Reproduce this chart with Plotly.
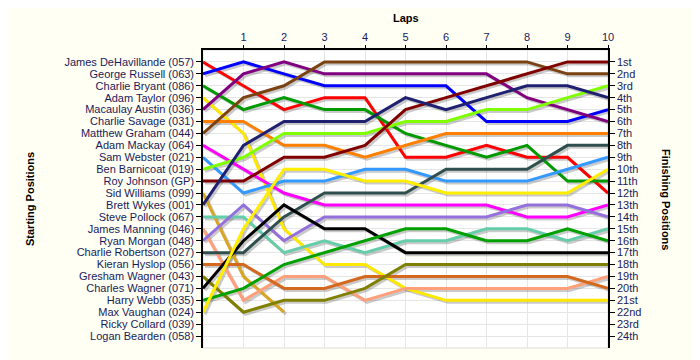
import plotly.graph_objects as go

laps = list(range(0, 11))
lap_ticks = list(range(1, 11))

drivers = [
    "James DeHavillande (057)", "George Russell (063)", "Charlie Bryant (086)",
    "Adam Taylor (096)", "Macaulay Austin (036)", "Charlie Savage (031)",
    "Matthew Graham (044)", "Adam Mackay (064)", "Sam Webster (021)",
    "Ben Barnicoat (019)", "Roy Johnson (GP)", "Sid Williams (099)",
    "Brett Wykes (001)", "Steve Pollock (067)", "James Manning (046)",
    "Ryan Morgan (048)", "Charlie Robertson (027)", "Kieran Hyslop (056)",
    "Gresham Wagner (043)", "Charles Wagner (071)", "Harry Webb (035)",
    "Max Vaughan (024)", "Ricky Collard (039)", "Logan Bearden (058)",
]

finish_labels = ["1st", "2nd", "3rd", "4th", "5th", "6th", "7th", "8th", "9th",
                 "10th", "11th", "12th", "13th", "14th", "15th", "16th", "17th",
                 "18th", "19th", "20th", "21st", "22nd", "23rd", "24th"]

# positions per lap (lap 0 = start)
p_dehavillande = [1, 3, 5, 4, 4, 9, 9, 8, 9, 9, 12]
p_russell = [2, 1, 2, 3, 3, 3, 3, 6, 6, 6, 5]
p_bryant = [3, 5, 4, 5, 5, 7, 8, 9, 8, 11, 11]
p_taylor = [4, 7, 15, 18, 18, 20, 21, 21, 21, 21, 21]
p_austin = [5, 2, 1, 2, 2, 2, 2, 2, 4, 5, 6]
p_savage = [6, 6, 8, 8, 9, 8, 7, 7, 7, 7, 7]
p_graham = [7, 4, 3, 1, 1, 1, 1, 1, 1, 2, 2]
p_mackay = [8, 10, 12, 13, 13, 13, 13, 13, 14, 14, 13]
p_webster = [9, 12, 11, 11, 10, 10, 11, 11, 11, 10, 9]
p_barnicoat = [10, 9, 7, 7, 7, 6, 6, 5, 5, 4, 3]
p_johnson = [11, 11, 9, 9, 8, 5, 4, 3, 2, 1, 1]
p_williams = [12, 19, 22, None, None, None, None, None, None, None, None]
p_wykes = [13, 8, 6, 6, 6, 4, 5, 4, 3, 3, 4]
p_pollock = [14, 14, 17, 16, 17, 16, 16, 15, 15, 16, 15]
p_manning = [15, 21, 19, 19, 21, 20, 20, 20, 20, 20, 19]
p_morgan = [16, 13, 16, 14, 14, 14, 14, 14, 13, 13, 14]
p_robertson = [17, 17, 14, 12, 12, 12, 10, 10, 10, 8, 8]
p_hyslop = [18, 18, 20, 20, 19, 19, 19, 19, 19, 19, 20]
p_gwagner = [19, 22, 21, 21, 20, 18, 18, 18, 18, 18, 18]
p_cwagner = [20, 16, 13, 15, 15, 17, 17, 17, 17, 17, 17]
p_webb = [21, 20, 18, 17, 16, 15, 15, 16, 16, 15, 16]
p_vaughan = [22, 15, 10, 10, 11, 11, 12, 12, 12, 12, 10]
p_collard = [None] * 11
p_bearden = [None] * 11

series = [p_dehavillande, p_russell, p_bryant, p_taylor, p_austin, p_savage,
          p_graham, p_mackay, p_webster, p_barnicoat, p_johnson, p_williams,
          p_wykes, p_pollock, p_manning, p_morgan, p_robertson, p_hyslop,
          p_gwagner, p_cwagner, p_webb, p_vaughan, p_collard, p_bearden]

colors = ["#FF0000", "#0000FF", "#009900", "#FFE800", "#800080", "#FF8000",
          "#7A4210", "#FF00FF", "#3399FF", "#80FF00", "#800000", "#DAA520",
          "#202070", "#66CDAA", "#FFA07A", "#9370DB", "#2F4F4F", "#D2691E",
          "#808000", "#000000", "#00A000", "#FFEE00", "#888888", "#888888"]

# plot geometry for the drop shadow offset (2 px)
plot_w_px, plot_h_px = 405, 298
x_span, y_span = 10, 25
dx = 2 * x_span / plot_w_px
dy = 2 * y_span / plot_h_px

fig = go.Figure()

# shadows
for s in series:
    xs = [l + dx for l in laps]
    ys = [v + dy if v is not None else None for v in s]
    fig.add_trace(go.Scatter(x=xs, y=ys, mode="lines",
                             line=dict(color="rgba(80,80,80,0.3)", width=3),
                             hoverinfo="skip", showlegend=False, connectgaps=False))

for name, s, c in zip(drivers, series, colors):
    fig.add_trace(go.Scatter(x=laps, y=s, mode="lines", name=name,
                             line=dict(color=c, width=3),
                             showlegend=False, connectgaps=False))

# dummy trace on y2 to activate right axis
fig.add_trace(go.Scatter(x=[None], y=[None], yaxis="y2", showlegend=False))

font_family = "Liberation Sans, Arial, sans-serif"
tick_font = dict(family=font_family, size=11, color="#1a1a5a")

positions = list(range(1, 25))

fig.update_layout(
    width=692, height=352,
    margin=dict(l=195, r=92, t=42, b=12),
    paper_bgcolor="#FFFFF4",
    plot_bgcolor="#FFFFFF",
    showlegend=False,
    xaxis=dict(
        range=[0, 10], side="top", tickvals=lap_ticks,
        ticktext=[str(t) for t in lap_ticks],
        showgrid=True, gridcolor="#E6E6E6", gridwidth=1,
        zeroline=False, showline=True, linecolor="#000000", linewidth=1.5,
        ticks="outside", ticklen=3, tickcolor="#000000",
        tickfont=tick_font, mirror=False, automargin=False,
    ),
    yaxis=dict(
        range=[25, 0], tickvals=positions, ticktext=drivers,
        showgrid=True, gridcolor="#E6E6E6", gridwidth=1,
        zeroline=False, showline=True, linecolor="#000000", linewidth=1.5,
        ticks="outside", ticklen=5, tickcolor="#000000",
        tickfont=tick_font, automargin=False,
    ),
    yaxis2=dict(
        range=[25, 0], tickvals=positions, ticktext=finish_labels,
        overlaying="y", side="right", showgrid=False, zeroline=False,
        showline=True, linecolor="#000000", linewidth=1.5,
        ticks="outside", ticklen=5, tickcolor="#000000",
        tickfont=tick_font, automargin=False,
    ),
    shapes=[dict(type="rect", xref="paper", yref="paper", x0=0, x1=1, y0=0, y1=1,
                 line=dict(color="#DDDDDD", width=1), layer="below")],
    annotations=[
        dict(text="<b>Laps</b>", xref="paper", yref="paper", x=0.5, y=1,
             yshift=32, xanchor="center", yanchor="middle", showarrow=False,
             font=dict(family=font_family, size=11, color="#000000")),
        dict(text="<b>Starting Positions</b>", xref="paper", yref="paper",
             x=0, y=0.5, xshift=-173, xanchor="center", yanchor="middle",
             textangle=-90, showarrow=False,
             font=dict(family=font_family, size=11, color="#000000")),
        dict(text="<b>Finishing Positions</b>", xref="paper", yref="paper",
             x=1, y=0.5, xshift=58, xanchor="center", yanchor="middle",
             textangle=90, showarrow=False,
             font=dict(family=font_family, size=11, color="#000000")),
    ],
)

fig.write_html("out.html")
